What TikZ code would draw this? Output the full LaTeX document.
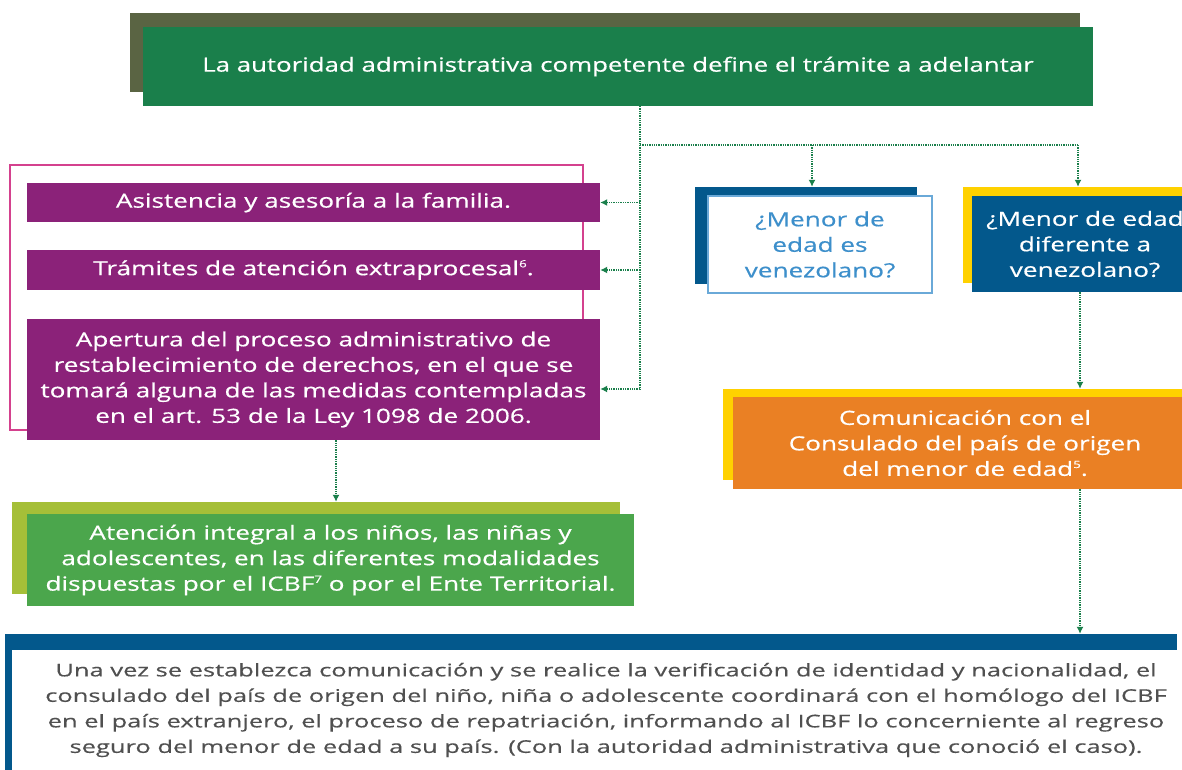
\documentclass[tikz,border=0pt]{standalone}
\usepackage{fontspec}
\setmainfont{Open Sans}[FakeStretch=1.34,FakeBold=0.5]
\newfontfamily\topfont{Open Sans}[FakeStretch=1.325,FakeBold=0.5]
\newfontfamily\botfont{Open Sans}[FakeStretch=1.455,FakeBold=0.4]
\usetikzlibrary{arrows.meta}
\definecolor{colive}{HTML}{5A6443}
\definecolor{cgreen}{HTML}{1A7F4B}
\definecolor{cpink}{HTML}{D4418E}
\definecolor{cpurple}{HTML}{8B2279}
\definecolor{cleaf}{HTML}{4BA64C}
\definecolor{clime}{HTML}{A5BF38}
\definecolor{cblue}{HTML}{03588C}
\definecolor{clblue}{HTML}{3D8FCB}
\definecolor{clbord}{HTML}{6AA9D8}
\definecolor{cyellow}{HTML}{FFD100}
\definecolor{corange}{HTML}{EA8024}
\definecolor{cgray}{HTML}{505050}
\newcommand{\supr}[1]{\raisebox{0.75ex}{\fontsize{10}{10}\selectfont #1}}
\begin{document}
\begin{tikzpicture}[x=1pt,y=-1pt,
  box/.style={draw=none, inner sep=0pt, align=center, text=white,
    font=\fontsize{19.5}{25.5}\selectfont},
  shadowbox/.style={draw=none, inner sep=0pt},
  dotline/.style={draw=cgreen, line width=1.3pt, densely dotted},
  conn/.style={dotline, -{Latex[length=7pt,width=7pt]}}]
\useasboundingbox (0,0) rectangle (1182,769);
\clip (0,0) rectangle (1182,769);

% top
\node[shadowbox, fill=colive, minimum width=950pt, minimum height=79pt] (topS) at (605,52.5) {};
\node[box, fill=cgreen, minimum width=950pt, minimum height=79pt,
  font=\topfont\fontsize{19.5}{25}\selectfont] (top) at (618,66.5)
  {La autoridad administrativa competente define el trámite a adelantar};

% left group
\draw[cpink, line width=1.5pt] (10,165) rectangle (583,430);
\node[box, fill=cpurple, minimum width=573pt, minimum height=39pt] (asis) at (313.5,202.5)
  {Asistencia y asesoría a la familia.};
\node[box, fill=cpurple, minimum width=573pt, minimum height=40pt] (tram) at (313.5,270)
  {Trámites de atención extraprocesal\supr{6}.};
\node[box, fill=cpurple, minimum width=573pt, minimum height=121pt] (aper) at (313.5,379.5)
  {Apertura del proceso administrativo de\\restablecimiento de derechos, en el que se\\tomará alguna de las medidas contempladas\\en el art. 53 de la Ley 1098 de 2006.};

% green
\node[shadowbox, fill=clime, minimum width=608pt, minimum height=92pt] (atenS) at (316,548) {};
\node[box, fill=cleaf, minimum width=607pt, minimum height=92pt] (aten) at (330.5,560)
  {Atención integral a los niños, las niñas y\\adolescentes, en las diferentes modalidades\\dispuestas por el ICBF\supr{7} o por el Ente Territorial.};

% venezolano
\node[shadowbox, fill=cblue, minimum width=222pt, minimum height=97pt] (venS) at (806,235.5) {};
\node[box, fill=white, draw=clbord, line width=1.5pt, text=clblue, minimum width=224pt, minimum height=97pt] (ven) at (820,244.5)
  {¿Menor de\\edad es\\venezolano?};

% diferente
\node[shadowbox, fill=cyellow, minimum width=240pt, minimum height=96pt] (difS) at (1083,235) {};
\node[box, fill=cblue, minimum width=226pt, minimum height=96pt] (dif) at (1085,244)
  {¿Menor de edad\\diferente a\\venezolano?};

% orange
\node[shadowbox, fill=cyellow, minimum width=470pt, minimum height=91pt] (comS) at (958,434.5) {};
\node[box, fill=corange, minimum width=464pt, minimum height=92pt] (com) at (965,443)
  {Comunicación con el\\Consulado del país de origen\\del menor de edad\supr{5}.};

% bottom
\node[shadowbox, fill=cblue, minimum width=1172pt, minimum height=150pt] (finS) at (591,709) {};
\node[box, fill=white, text=cgray, minimum width=1188pt, minimum height=121pt,
  font=\botfont\fontsize{17.5}{25.5}\selectfont] (fin) at (606,710)
  {Una vez se establezca comunicación y se realice la verificación de identidad y nacionalidad, el\\consulado del país de origen del niño, niña o adolescente coordinará con el homólogo del ICBF\\en el país extranjero, el proceso de repatriación, informando al ICBF lo concerniente al regreso\\seguro del menor de edad a su país. (Con la autoridad administrativa que conoció el caso).};

% connectors
\coordinate (j0) at (640,106);
\coordinate (j1) at (640,145);
\coordinate (j2) at (640,389);
\coordinate (jv) at (812,145);
\coordinate (jd) at (1078,145);
\draw[dotline] (j0) -- (j2);
\draw[dotline] (j1) -- (jd);
\draw[conn] (jv) -- (jv |- venS.north);
\draw[conn] (jd) -- (jd |- difS.north);
\draw[conn] (asis.east -| j0) -- (asis.east);
\draw[conn] (tram.east -| j0) -- (tram.east);
\draw[conn] (j2) -- (j2 -| aper.east);
\draw[conn] (aper.south -| 336,0) -- (atenS.north -| 336,0);
\draw[conn] (dif.south -| 1080,0) -- (comS.north -| 1080,0);
\draw[conn] (com.south -| 1080,0) -- (finS.north -| 1080,0);
\end{tikzpicture}
\end{document}
